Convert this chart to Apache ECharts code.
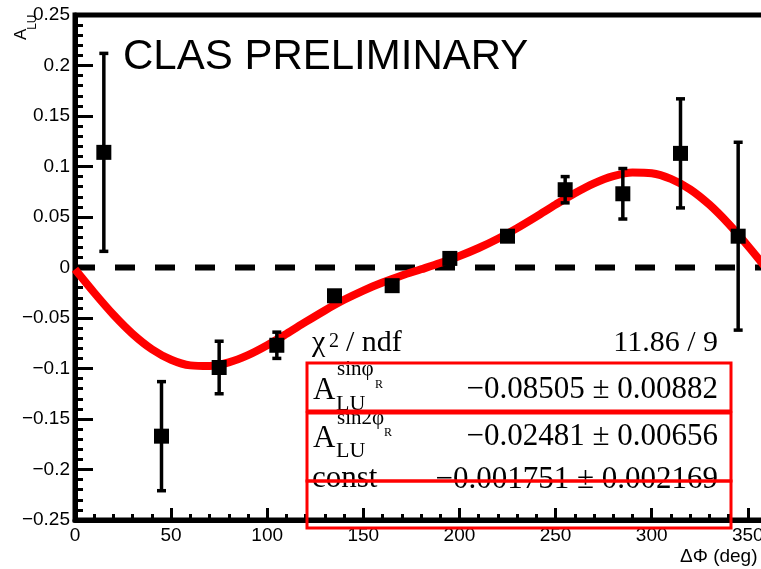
<!DOCTYPE html>
<html><head><meta charset="utf-8">
<script src="https://cdn.jsdelivr.net/npm/echarts@6/dist/echarts.min.js"></script>
<style>html,body{margin:0;padding:0;background:#fff}#c{width:761px;height:569px}</style>
</head><body><div id="c"></div>
<script>
// ---- data ----
const phiBins     = [15, 45, 75, 105, 135, 165, 195, 225, 255, 285, 315, 345];
const asymValues  = [0.114, -0.167, -0.099, -0.077, -0.028, -0.018, 0.009, 0.031, 0.077, 0.073, 0.113, 0.031];
const asymErrors  = [0.098, 0.054, 0.026, 0.013, 0.004, 0.004, 0.004, 0.004, 0.013, 0.025, 0.054, 0.093];
const fitPhi      = [0,10,20,30,40,50,60,70,80,90,100,110,120,130,140,150,160,170,180,190,200,210,220,230,240,250,260,270,280,290,300,310,320,330,340,350,360];
const fitValues   = [-0.0018,-0.0250,-0.0468,-0.0658,-0.0809,-0.0913,-0.0969,-0.0976,-0.0940,-0.0868,-0.0770,-0.0657,-0.0539,-0.0425,-0.0320,-0.0228,-0.0149,-0.0080,-0.0018,0.0045,0.0114,0.0193,0.0285,0.0390,0.0504,0.0622,0.0735,0.0833,0.0905,0.0941,0.0934,0.0878,0.0774,0.0623,0.0433,0.0215,-0.0018];
const zeroPhi     = [0, 360];
const zeroValues  = [0, 0];
const chiText     = '11.86 / 9';
const parValues   = ['\u22120.08505 \u00b1 0.00882', '\u22120.02481 \u00b1 0.00656', '\u22120.001751 \u00b1 0.002169'];

const SERIF = '"Liberation Serif","Times New Roman",serif';
const SANS = '"Liberation Sans",Arial,Helvetica,sans-serif';

function T(x, base, text, fs, fam, align, extra) {
  const k = fam === SANS ? 0.3465 : 0.3375;
  return Object.assign({
    type: 'text', x: x, y: base - k * fs, z: 100,
    style: { text: text, font: fs + 'px ' + fam, fill: '#000',
      align: align || 'left', verticalAlign: 'middle',
      textAlign: align || 'left', textVerticalAlign: 'middle' }
  }, extra || {});
}
function R(x, y, w, h) {
  return { type: 'rect', z: 110, shape: { x: x, y: y, width: w, height: h },
    style: { fill: 'none', stroke: '#ff0000', lineWidth: 3 } };
}

const chart = echarts.init(document.getElementById('c'), null, { renderer: 'canvas' });

const option = {
  animation: false,
  backgroundColor: '#fff',
  grid: { left: 75, top: 15, right: -6, bottom: 49, containLabel: false, outerBoundsMode: 'none',
    show: true, borderColor: '#000', borderWidth: 5, backgroundColor: 'transparent' },
  xAxis: {
    type: 'value', min: 0, max: 360, interval: 50,
    axisLine: { show: true, onZero: false, lineStyle: { color: '#000', width: 5 } },
    axisTick: { show: true, inside: true, length: 12, lineStyle: { color: '#000', width: 3 } },
    minorTick: { show: true, splitNumber: 5, length: 6, lineStyle: { color: '#000', width: 3 } },
    splitLine: { show: false },
    axisLabel: { show: true, margin: 6, showMaxLabel: false, hideOverlap: false, color: '#000', fontFamily: SANS, fontSize: 19,
      formatter: v => String(Math.round(v)) }
  },
  yAxis: {
    type: 'value', min: -0.25, max: 0.25, interval: 0.05,
    axisLine: { show: true, onZero: false, lineStyle: { color: '#000', width: 5 } },
    axisTick: { show: true, inside: true, length: 18, lineStyle: { color: '#000', width: 3 } },
    minorTick: { show: true, splitNumber: 5, length: 8, lineStyle: { color: '#000', width: 3 } },
    splitLine: { show: false },
    axisLabel: { show: true, margin: 5, color: '#000', fontFamily: SANS, fontSize: 19,
      formatter: v => { const r = Math.round(v * 100) / 100; return r === 0 ? '0' : String(r).replace('-', '\u2212'); } }
  },
  series: [
    { type: 'line', z: 2, data: zeroPhi.map((p, i) => [p, zeroValues[i]]), symbol: 'none',
      lineStyle: { color: '#000', width: 6, type: [20, 20], cap: 'butt' }, silent: true },
    { type: 'line', z: 3, data: fitPhi.map((p, i) => [p, fitValues[i]]), symbol: 'none', smooth: 0.3,
      lineStyle: { color: '#ff0000', width: 8 }, silent: true },
    { type: 'custom', z: 4, data: phiBins.map((p, i) => [p, asymValues[i], asymErrors[i]]),
      renderItem: function (params, api) {
        const x = api.value(0), y = api.value(1), e = api.value(2);
        const t = api.coord([x, y + e]), b = api.coord([x, y - e]);
        const cw = 4.5, st = { stroke: '#000', lineWidth: 3.5 };
        return { type: 'group', children: [
          { type: 'line', shape: { x1: t[0], y1: t[1], x2: b[0], y2: b[1] }, style: st },
          { type: 'line', shape: { x1: t[0] - cw, y1: t[1], x2: t[0] + cw, y2: t[1] }, style: st },
          { type: 'line', shape: { x1: b[0] - cw, y1: b[1], x2: b[0] + cw, y2: b[1] }, style: st }
        ]};
      } },
    { type: 'scatter', z: 5, data: phiBins.map((p, i) => [p, asymValues[i]]), symbol: 'rect', symbolSize: 15,
      itemStyle: { color: '#000', opacity: 1 } }
  ],
  graphic: [
    T(123, 72, 'CLAS PRELIMINARY', 42, SANS, 'left'),
    // y-axis title (rotated)
    T(21, 46, 'A', 17, SANS, 'left', { rotation: Math.PI / 2 }),
    T(33, 34, 'LU', 12, SANS, 'left', { rotation: Math.PI / 2 }),
    // x-axis title
    T(680, 563, '\u0394\u03a6 (deg)', 19, SANS, 'left'),
    // stats box
    T(312, 353, '\u03c7', 30, SERIF, 'left'),
    T(329, 348, '2', 20, SERIF, 'left'),
    T(346, 353, '/ ndf', 30, SERIF, 'left'),
    T(718, 353, chiText, 30, SERIF, 'right'),
    T(313, 401, 'A', 31, SERIF, 'left'),
    T(336, 412, 'LU', 22, SERIF, 'left'),
    T(337, 377, 'sin\u03c6', 21, SERIF, 'left'),
    T(375, 389, 'R', 12, SERIF, 'left'),
    T(718, 400, parValues[0], 31, SERIF, 'right'),
    T(313, 449, 'A', 31, SERIF, 'left'),
    T(336, 459, 'LU', 22, SERIF, 'left'),
    T(337, 426, 'sin2\u03c6', 21, SERIF, 'left'),
    T(384, 437, 'R', 12, SERIF, 'left'),
    T(718, 447, parValues[1], 31, SERIF, 'right'),
    T(312, 489, 'const', 31, SERIF, 'left'),
    T(718, 490, parValues[2], 31, SERIF, 'right'),
    R(307, 363, 424, 48),
    R(307, 413, 424, 68),
    R(307, 481, 424, 47)
  ]
};
chart.setOption(option);
</script>
</body></html>
